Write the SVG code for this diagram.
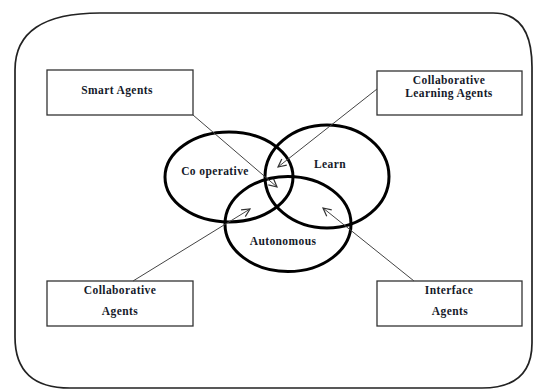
<svg xmlns="http://www.w3.org/2000/svg" width="536" height="390" viewBox="0 0 536 390">
  <style>
    .frame { fill: #fff; stroke: #222; stroke-width: 1.7; }
    .box { fill: #fff; stroke: #333; stroke-width: 1.3; }
    .set { fill: none; stroke: #000; stroke-width: 3; }
    .lbl { font-family: "Liberation Serif", "Times New Roman", serif; font-weight: bold; font-size: 11.5px; fill: #151a2a; text-anchor: middle; letter-spacing: 0.4px; }
    .link { stroke: #444; stroke-width: 1; fill: none; marker-end: url(#open); }
  </style>
  <defs>
    <marker id="open" viewBox="0 0 10 10" refX="9" refY="5" markerWidth="10" markerHeight="10" markerUnits="userSpaceOnUse" orient="auto">
      <path d="M1,1 L9,5 L1,9" fill="none" stroke="#333" stroke-width="1.2"/>
    </marker>
  </defs>
  <rect width="536" height="390" fill="#fff"/>

  <!-- outer rounded frame -->
  <path class="frame" d="M100,13 L493,13 Q532,13 532,67 L532,343 Q532,388 482,388 L70,388 Q15,388 15,337 L15,70 Q15,13 100,13 Z"/>

  <!-- overlapping sets -->
  <g id="set-cooperative">
    <ellipse class="set" cx="229" cy="177" rx="64" ry="45"/>
    <text class="lbl" x="215" y="175">Co operative</text>
  </g>
  <g id="set-learn">
    <ellipse class="set" cx="327" cy="176.5" rx="62" ry="51.5"/>
    <text class="lbl" x="330" y="168">Learn</text>
  </g>
  <g id="set-autonomous">
    <ellipse class="set" cx="288" cy="224" rx="63" ry="47.5"/>
    <text class="lbl" x="283" y="245">Autonomous</text>
  </g>

  <!-- agent boxes -->
  <g id="smart-agents">
    <rect class="box" x="47" y="70" width="146" height="45"/>
    <text class="lbl" x="117" y="94">Smart Agents</text>
  </g>
  <g id="collaborative-learning-agents">
    <rect class="box" x="377" y="71" width="145" height="44"/>
    <text class="lbl" x="449" y="84">Collaborative</text>
    <text class="lbl" x="449" y="97">Learning Agents</text>
  </g>
  <g id="collaborative-agents">
    <rect class="box" x="47" y="281" width="146" height="45"/>
    <text class="lbl" x="120" y="294">Collaborative</text>
    <text class="lbl" x="120" y="315">Agents</text>
  </g>
  <g id="interface-agents">
    <rect class="box" x="377" y="281" width="145" height="45"/>
    <text class="lbl" x="449" y="294">Interface</text>
    <text class="lbl" x="450" y="315">Agents</text>
  </g>

  <!-- connectors -->
  <g id="connectors">
    <line class="link" x1="193" y1="115" x2="277" y2="187"/>
    <line class="link" x1="377" y1="89" x2="278" y2="167"/>
    <line class="link" x1="133" y1="281" x2="250" y2="209"/>
    <line class="link" x1="414" y1="281" x2="323" y2="208"/>
  </g>
</svg>
